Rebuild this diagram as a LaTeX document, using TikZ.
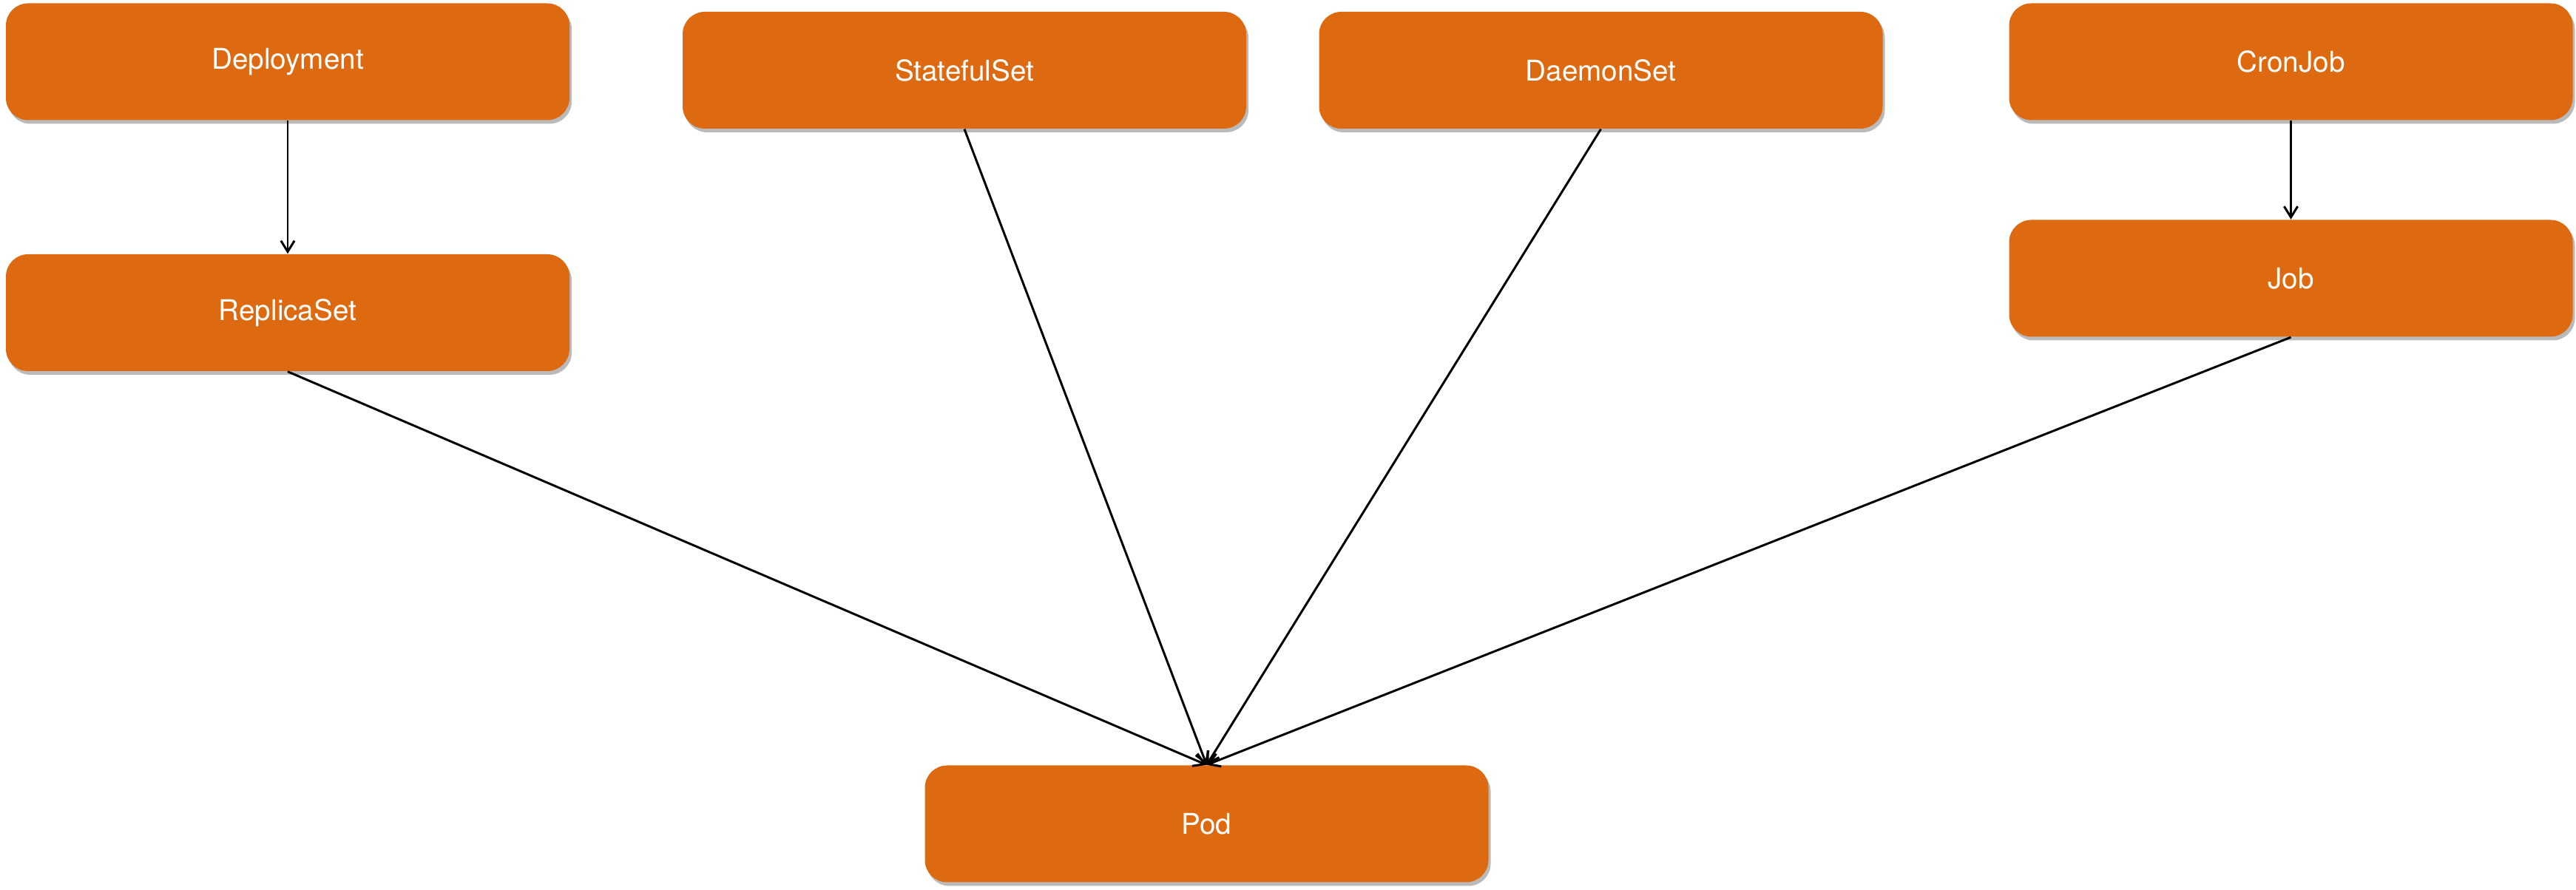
\documentclass[tikz,border=0pt]{standalone}
\usepackage{fontspec}
\setmainfont{TeX Gyre Heros}
\usepackage{tikz}
\usetikzlibrary{arrows.meta,positioning,shadows}
\definecolor{kubeorange}{RGB}{221,106,16}
\tikzset{font=\fontsize{11}{13}\selectfont}
\tikzset{kind/.style={fill=kubeorange, text=white, rounded corners=0.3cm,
  minimum width=7.62cm, minimum height=1.58cm, inner sep=0pt,
  drop shadow={shadow xshift=0.03cm, shadow yshift=-0.05cm, opacity=0.45, fill=black!60}}}
\tikzset{owns/.style={-{Straight Barb[length=4.2pt,width=5.2pt,line width=0.85pt]}, line width=0.85pt}}

\begin{document}
\begin{tikzpicture}
\useasboundingbox (0,0) rectangle (34.83,12.04);
\node[kind] (deploy) at (3.89,11.205) {Deployment};
\node[kind] (rs) at (3.89,7.81) {ReplicaSet};
\node[kind] (sts) at (13.04,11.09) {StatefulSet};
\node[kind] (ds) at (21.645,11.09) {DaemonSet};
\node[kind] (cron) at (30.975,11.205) {CronJob};
\node[kind] (job) at (30.975,8.275) {Job};
\node[kind] (pod) at (16.315,0.895) {Pod};
\draw[owns] (deploy) -- (rs);
\draw[owns] (cron) -- (job);
\foreach \src in {rs,sts,ds,job}
\draw[owns] (\src.south) -- (pod.north);
\end{tikzpicture}
\end{document}
